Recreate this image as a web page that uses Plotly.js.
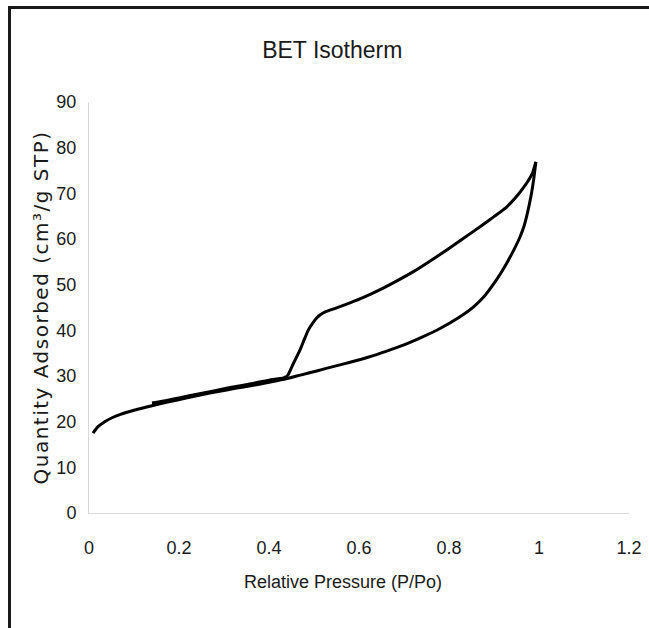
<!DOCTYPE html>
<html>
<head>
<meta charset="utf-8">
<script src="https://cdn.plot.ly/plotly-3.0.1.min.js"></script>
<style>
  html, body { margin: 0; padding: 0; background: #fff; }
  #wrap { position: relative; width: 649px; height: 628px; overflow: hidden; }
  #chart { position: absolute; left: 0; top: 0; width: 649px; height: 628px; }
  #frame { position: absolute; left: 8px; top: 6px; width: 700px; height: 700px;
           border-left: 3px solid #1a1a1a; border-top: 3px solid #1a1a1a; pointer-events: none; }
</style>
</head>
<body>
<div id="wrap"><div id="chart"></div><div id="frame"></div></div>
<script>
// Adsorption branch (lower curve)
const adsX = [0.009, 0.02, 0.035, 0.05, 0.07, 0.1, 0.14, 0.18, 0.213, 0.25, 0.287, 0.325, 0.362, 0.4, 0.43, 0.47, 0.506, 0.54, 0.58, 0.62, 0.66, 0.70, 0.74, 0.78, 0.82, 0.854, 0.878, 0.898, 0.915, 0.931, 0.945, 0.958, 0.967, 0.975, 0.982, 0.988, 0.993];
const adsY = [17.5, 18.9, 20.0, 20.8, 21.6, 22.5, 23.5, 24.4, 25.1, 25.9, 26.6, 27.3, 27.9, 28.6, 29.2, 30.2, 31.1, 32.0, 33.0, 34.1, 35.4, 36.8, 38.5, 40.4, 42.7, 45.1, 47.4, 50.0, 52.5, 55.2, 57.8, 60.5, 62.9, 66.0, 69.3, 72.9, 76.9];

// Desorption branch (upper curve)
const desX = [0.993, 0.985, 0.975, 0.965, 0.95, 0.928, 0.9, 0.869, 0.83, 0.795, 0.76, 0.72, 0.68, 0.647, 0.61, 0.58, 0.55, 0.524, 0.514, 0.506, 0.497, 0.487, 0.478, 0.469, 0.455, 0.442, 0.435, 0.43, 0.4, 0.36, 0.32, 0.28, 0.24, 0.2, 0.17, 0.14];
const desY = [76.9, 74.3, 72.6, 71.2, 69.3, 67.0, 64.9, 62.7, 60.0, 57.6, 55.3, 52.8, 50.6, 48.9, 47.2, 46.0, 44.9, 44.0, 43.4, 42.7, 41.6, 40.0, 37.9, 35.7, 32.9, 30.2, 29.7, 29.5, 29.1, 28.3, 27.6, 26.8, 26.0, 25.2, 24.6, 24.1];

const xTicks = [0, 0.2, 0.4, 0.6, 0.8, 1, 1.2];
const xTickText = ['0', '0.2', '0.4', '0.6', '0.8', '1', '1.2'];
const yTicks = [0, 10, 20, 30, 40, 50, 60, 70, 80, 90];

const chartTitle = 'BET Isotherm';
const xTitle = 'Relative Pressure (P/Po)';
const yTitle = 'Quantity Adsorbed (cm³/g STP)';

const sans = '"Liberation Sans", Arial, sans-serif';

const lineStyle = { color: '#000', width: 3, shape: 'spline', smoothing: 0.5 };

const data = [
  { x: adsX, y: adsY, type: 'scatter', mode: 'lines', name: 'Adsorption', line: lineStyle, hoverinfo: 'x+y' },
  { x: desX, y: desY, type: 'scatter', mode: 'lines', name: 'Desorption', line: lineStyle, hoverinfo: 'x+y' }
];

const layout = {
  width: 649, height: 628,
  margin: { l: 89, r: 20, t: 102, b: 115 },
  paper_bgcolor: '#fff', plot_bgcolor: '#fff',
  showlegend: false,
  title: {
    text: chartTitle,
    font: { family: sans, size: 23, color: '#1a1a1a' },
    xref: 'container', x: 0.512, xanchor: 'center',
    yref: 'container', y: 1 - 50 / 628, yanchor: 'middle'
  },
  xaxis: {
    range: [0, 1.2],
    tickvals: xTicks, ticktext: xTickText,
    showgrid: false, zeroline: false,
    showline: true, linecolor: '#d9d9d9', linewidth: 1,
    ticks: '', ticklabelstandoff: 18,
    tickfont: { family: sans, size: 18, color: '#1a1a1a' }
  },
  yaxis: {
    range: [0, 90],
    tickvals: yTicks,
    showgrid: false, zeroline: false,
    showline: true, linecolor: '#d9d9d9', linewidth: 1,
    ticks: '', ticklabelstandoff: 8,
    tickfont: { family: sans, size: 18, color: '#1a1a1a' },
    title: { text: yTitle, font: { family: '"DejaVu Sans", Arial, sans-serif', size: 20, color: '#1a1a1a' }, standoff: 2 }
  },
  annotations: [{
    text: xTitle, showarrow: false,
    xref: 'paper', x: (343 - 89) / 540, xanchor: 'center',
    yref: 'paper', y: (513 - 582) / 411, yanchor: 'middle',
    font: { family: sans, size: 18, color: '#1a1a1a' }
  }]
};

Plotly.newPlot('chart', data, layout, { displayModeBar: false, staticPlot: true }).then(function () {
  const yt = document.querySelector('#chart .ytitle');
  if (yt) yt.style.letterSpacing = '1.5px';
});
</script>
</body>
</html>
